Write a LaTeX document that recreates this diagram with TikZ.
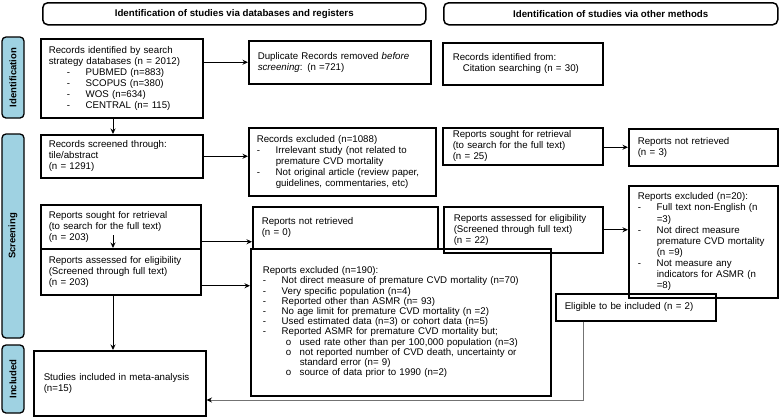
\documentclass[tikz,border=0pt]{standalone}
\usepackage{fontspec}
\setmainfont{Liberation Sans}
\usetikzlibrary{arrows.meta,calc}

\definecolor{phaseblue}{HTML}{9FD2E2}

% list markers used inside the boxes
\newcommand{\dsh}[1][0pt]{\hspace*{#1}\makebox[19pt][l]{-}}
\newcommand{\subitm}{\hspace*{23pt}\makebox[14pt][l]{o}}
\newcommand{\indnt}[1]{\hspace*{#1}}

\begin{document}
\begin{tikzpicture}[x=1pt,y=-1pt,
  box/.style={draw,line width=1.5pt,anchor=north west,align=left,inner xsep=0pt,inner ysep=1pt,font=\fontsize{9.7}{11.1}\selectfont},
  header/.style={draw,line width=1.5pt,rounded corners=5pt,anchor=north west,inner sep=0pt,font=\fontsize{9.7}{11}\selectfont\bfseries},
  phase/.style={draw,line width=1.3pt,rounded corners=4pt,fill=phaseblue,rotate=90,minimum height=22pt,inner sep=0pt,font=\fontsize{9.5}{11}\selectfont\bfseries},
  arr/.style={-{Stealth[length=5.5pt,width=5pt]},line width=0.9pt},
  back/.style={-{Stealth[length=5.5pt,width=5pt,color=black]},line width=0.9pt,draw=black!55},
]
\useasboundingbox (0,0) rectangle (780,416);

% Headers
\node[header,minimum width=383pt,minimum height=22pt] (hdrDB) at (42,2) {Identification of studies via databases and registers};
\node[header,minimum width=334pt,minimum height=22pt] (hdrOther) at (443,2) {Identification of studies via other methods};

% Phase labels
\node[phase,minimum width=81pt]  (labId)  at (13,77.5) {Identification};
\node[phase,minimum width=204pt] (labScr) at (13,236)  {Screening};
\node[phase,minimum width=68pt]  (labInc) at (13,379)  {Included};

% Databases and registers
\node[box,minimum width=162pt,minimum height=79pt,text width=146pt] (recDB) at (40,38)
  {Records identified by search\\strategy databases (n = 2012)\\
   \dsh[18pt]PUBMED (n=883)\\\dsh[18pt]SCOPUS (n=380)\\\dsh[18pt]WOS (n=634)\\\dsh[18pt]CENTRAL (n= 115)};
\node[box,minimum width=182pt,minimum height=43pt,text width=164pt] (dup) at (248,40)
  {Duplicate Records removed \textit{before}\\\textit{screening}: (n =721)};
\node[box,minimum width=162pt,minimum height=43pt,text width=146pt] (scr) at (40,134)
  {Records screened through:\\tile/abstract\\(n = 1291)};
\node[box,minimum width=187pt,minimum height=68pt,text width=171pt] (exclTA) at (248,127)
  {Records excluded (n=1088)\\
   \dsh Irrelevant study (not related to\\\indnt{19pt}premature CVD mortality\\
   \dsh Not original article (review paper,\\\indnt{19pt}guidelines, commentaries, etc)};
\node[box,minimum width=160pt,minimum height=44pt,text width=144pt] (soughtDB) at (40,204)
  {Reports sought for retrieval\\(to search for the full text)\\(n = 203)};
\node[box,minimum width=160pt,minimum height=46pt,text width=144pt] (assessDB) at (40,248)
  {Reports assessed for eligibility\\(Screened through full text)\\(n = 203)};
\node[box,minimum width=185pt,minimum height=42pt,text width=167pt] (notRetDB) at (252,206)
  {Reports not retrieved\\(n = 0)};
\node[box,minimum width=300pt,minimum height=147pt,text width=276pt,font=\fontsize{9.7}{10.2}\selectfont] (exclDB) at (250,248)
  {Reports excluded (n=190):\\
   \dsh Not direct measure of premature CVD mortality (n=70)\\
   \dsh Very specific population (n=4)\\
   \dsh Reported other than ASMR (n= 93)\\
   \dsh No age limit for premature CVD mortality (n =2)\\
   \dsh Used estimated data (n=3) or cohort data (n=5)\\
   \dsh Reported ASMR for premature CVD mortality but;\\
   \subitm used rate other than per 100,000 population (n=3)\\
   \subitm not reported number of CVD death, uncertainty or\\\indnt{37pt}standard error (n= 9)\\
   \subitm source of data prior to 1990 (n=2)\\[5pt]};
\node[box,minimum width=172pt,minimum height=65pt,text width=152pt] (incl) at (33,350)
  {Studies included in meta-analysis\\(n=15)};

% Other methods
\node[box,minimum width=160pt,minimum height=42pt,text width=140pt] (recOther) at (442,42)
  {Records identified from:\\\indnt{10pt}Citation searching (n = 30)};
\node[box,minimum width=160pt,minimum height=37pt,text width=140pt] (soughtO) at (442,127)
  {Reports sought for retrieval\\(to search for the full text)\\(n = 25)};
\node[box,minimum width=149pt,minimum height=37pt,text width=131pt] (notRetO) at (628,128)
  {Reports not retrieved\\(n = 3)};
\node[box,minimum width=159pt,minimum height=46pt,text width=139pt] (assessO) at (443,206)
  {Reports assessed for eligibility\\(Screened through full text)\\(n = 22)};
\node[box,minimum width=149pt,minimum height=112pt,text width=131pt] (exclO) at (628,185)
  {Reports excluded (n=20):\\
   \dsh Full text non-English (n\\\indnt{19pt}=3)\\
   \dsh Not direct measure\\\indnt{19pt}premature CVD mortality\\\indnt{19pt}(n =9)\\
   \dsh Not measure any\\\indnt{19pt}indicators for ASMR (n\\\indnt{19pt}=8)};
\node[box,minimum width=160pt,minimum height=27pt,text width=142pt] (elig) at (555,293)
  {Eligible to be included (n = 2)};

% Connectors
\coordinate (colDB) at (113,0);
\coordinate (inH) at (113,235);
\coordinate (turn) at (583,400);
\draw[arr] (recDB.east |- dup.west) -- (dup.west);
\draw[arr] (recDB.south -| colDB) -- (scr.north -| colDB);
\draw[arr] (scr.east) -- (scr.east -| exclTA.west);
\draw[arr] (inH) -- (assessDB.north -| inH);
\draw[arr] ([yshift=-15pt]soughtDB.east) -- ([yshift=-15pt]soughtDB.east -| notRetDB.west);
\draw[arr] ([yshift=-14pt]assessDB.east) -- ([yshift=-14pt]assessDB.east -| exclDB.west);
\draw[arr] (assessDB.south -| colDB) -- (incl.north -| colDB);
\draw[arr] (soughtO.east |- notRetO.west) -- (notRetO.west);
\draw[arr] (assessO.east) -- (assessO.east -| exclO.west);
\draw[back] (elig.south -| turn) -- (turn) -- (turn -| incl.east);

\end{tikzpicture}
\end{document}
